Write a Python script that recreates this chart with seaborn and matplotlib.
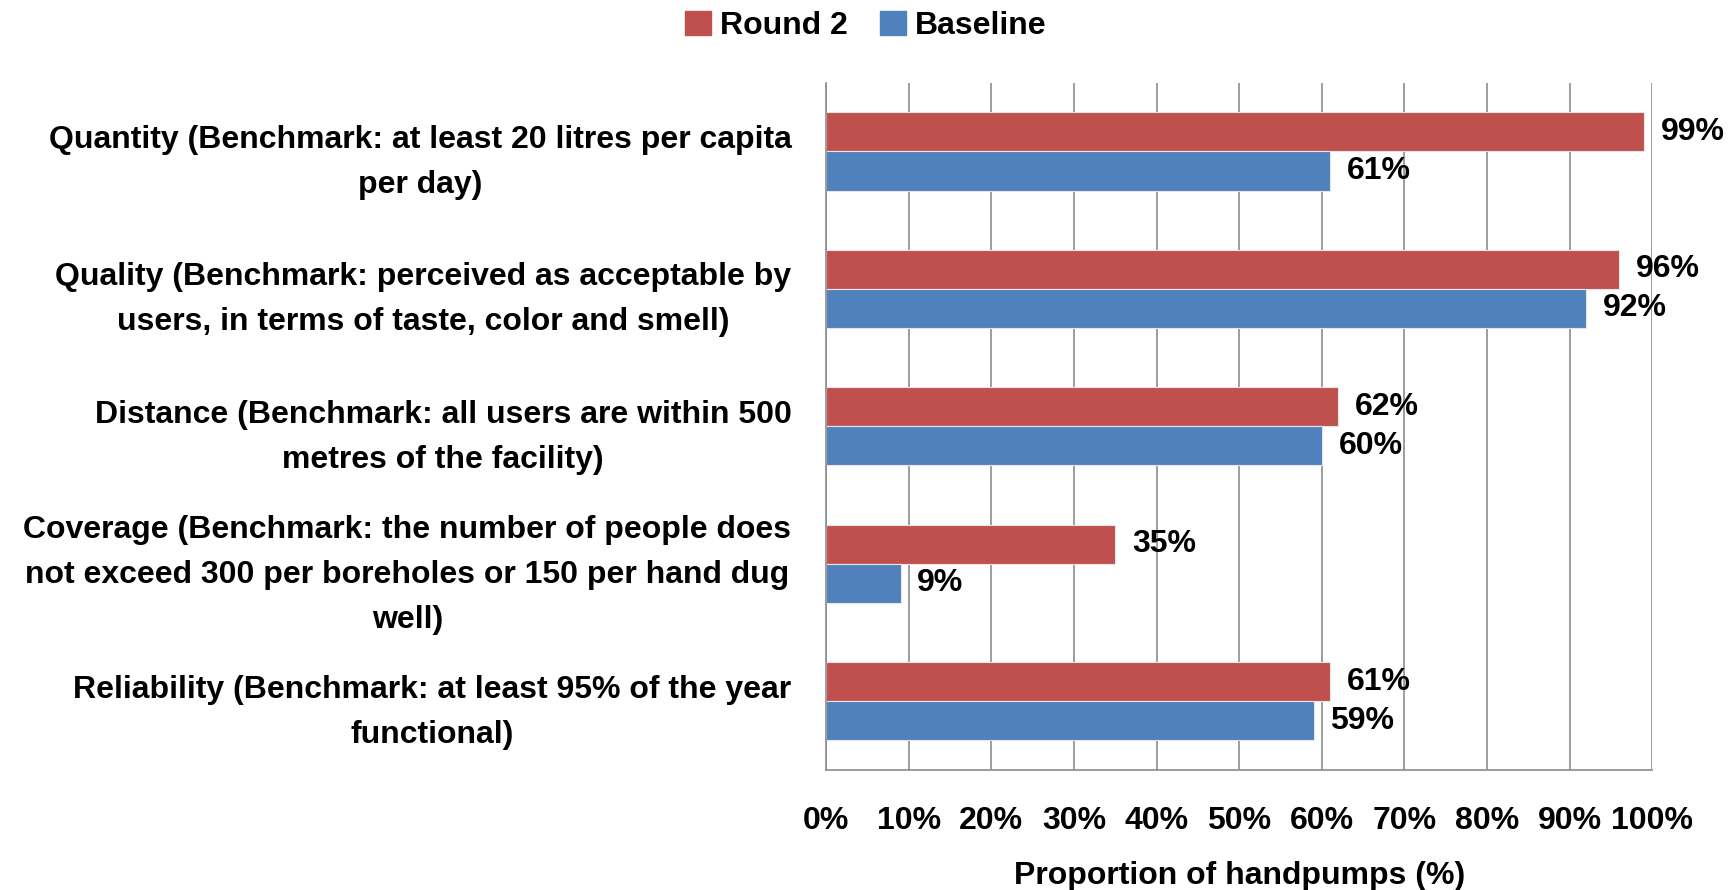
import matplotlib
matplotlib.use("Agg")
import matplotlib.pyplot as plt
import matplotlib.font_manager as fm
import seaborn as sns
import pandas as pd
import numpy as np

# Benchmarks and measured proportions of handpumps meeting them
categories = [
    "Quantity (Benchmark: at least 20 litres per capita\nper day)",
    "Quality (Benchmark: perceived as acceptable by\nusers, in terms of taste, color and smell)",
    "Distance (Benchmark: all users are within 500\nmetres of the facility)",
    "Coverage (Benchmark: the number of people does\nnot exceed 300 per boreholes or 150 per hand dug\nwell)",
    "Reliability (Benchmark: at least 95% of the year\nfunctional)",
]
round2 = [99, 96, 62, 35, 61]
baseline = [61, 92, 60, 9, 59]
series = ["Round 2", "Baseline"]
colors = ["#C0504D", "#4F81BD"]
x_ticks = [0, 10, 20, 30, 40, 50, 60, 70, 80, 90, 100]

df = pd.DataFrame({
    "Benchmark": categories * 2,
    "Series": [series[0]] * len(categories) + [series[1]] * len(categories),
    "Value": round2 + baseline,
})

sns.set_theme(style="white")
installed = {f.name for f in fm.fontManager.ttflist}
family = ["Liberation Sans Narrow", "DejaVu Sans"] if "Liberation Sans Narrow" in installed else ["Liberation Sans", "DejaVu Sans"]
plt.rcParams["font.family"] = family
plt.rcParams["font.weight"] = "bold"
plt.rcParams["text.color"] = "black"
plt.rcParams["xtick.color"] = "#8C8C8C"
plt.rcParams["ytick.color"] = "#8C8C8C"
plt.rcParams["xtick.labelcolor"] = "black"
plt.rcParams["ytick.labelcolor"] = "black"
plt.rcParams["axes.labelcolor"] = "black"

FS = 23

fig = plt.figure(figsize=(17.32, 8.9), dpi=100)
ax = fig.add_axes([0.477, 0.135, 0.477, 0.772])

sns.barplot(data=df, y="Benchmark", x="Value", hue="Series", hue_order=series,
            palette=colors, orient="h", width=0.57, ax=ax, legend=False,
            edgecolor="#E6E6E6", linewidth=0.8, saturation=1)

ax.set_xlim(0, 100)
ax.set_ylim(4.5, -0.5)
ax.set_xticks(x_ticks)
ax.set_xticklabels([f"{t}%" for t in x_ticks], fontsize=FS, fontweight="bold")
ax.tick_params(axis="x", length=11, width=1.2, pad=15, direction="out")
ax.xaxis.grid(True, color="#8C8C8C", linewidth=1.2)
ax.set_axisbelow(True)

ax.set_yticks(range(len(categories)))
ax.set_yticklabels(categories, fontsize=FS, fontweight="bold")
for lbl in ax.get_yticklabels():
    lbl.set_multialignment("center")
    lbl.set_linespacing(1.65)
ax.tick_params(axis="y", which="major", length=0, pad=25)
ax.set_yticks(np.arange(-0.5, len(categories), 1.0), minor=True)
ax.tick_params(axis="y", which="minor", length=7, width=1.2, direction="out")

for s in ["top", "right"]:
    ax.spines[s].set_visible(False)
for s in ["left", "bottom"]:
    ax.spines[s].set_color("#8C8C8C")
    ax.spines[s].set_linewidth(1.2)

ax.set_xlabel("Proportion of handpumps (%)", fontsize=FS, fontweight="bold", labelpad=18)
ax.set_ylabel("")

for container in ax.containers:
    ax.bar_label(container, labels=[f"{v:.0f}%" for v in container.datavalues],
                 padding=12, fontsize=FS, fontweight="bold", color="black")

handles = [plt.Rectangle((0, 0), 1, 1, color=c) for c in colors]
fig.legend(handles, series, loc="upper center", bbox_to_anchor=(0.5, 1.02), ncol=2,
           frameon=False, prop={"weight": "bold", "size": FS},
           handlelength=0.8, handleheight=0.8, handletextpad=0.3, columnspacing=1.0)

fig.savefig("out.png", dpi=100)
